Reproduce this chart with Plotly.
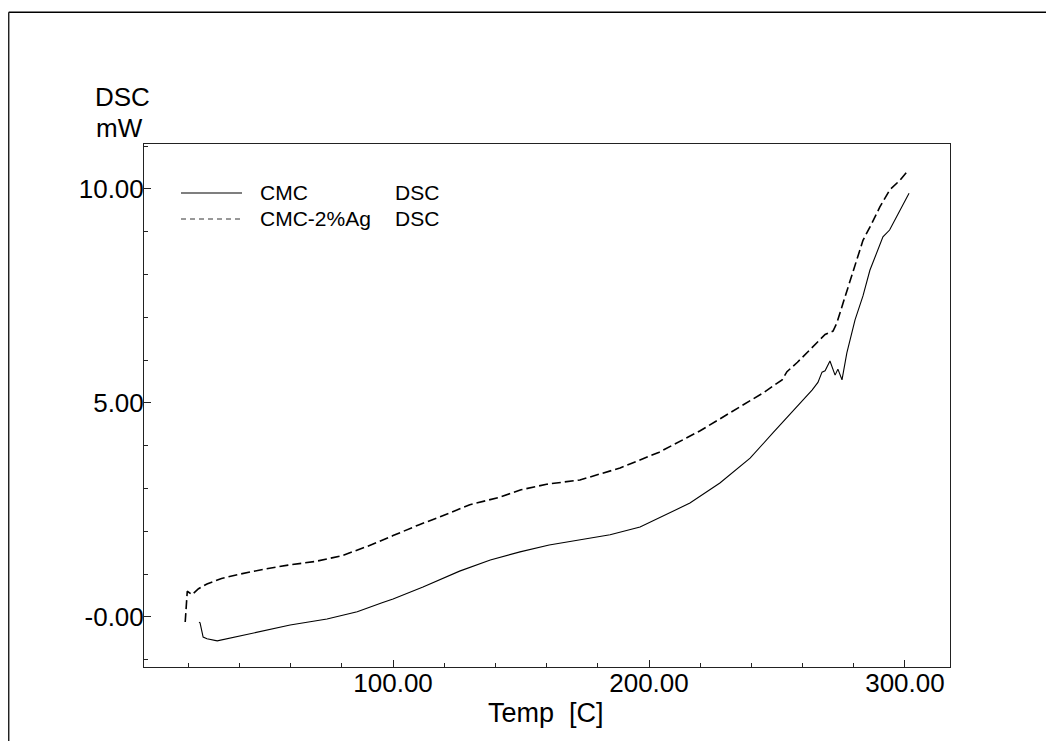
import plotly.graph_objects as go

# CMC (solid)
cmc_temp = [24.2, 24.6, 25.8, 27.3, 31.3, 40.2, 50.0, 59.8, 74.2, 86.0, 95.7, 100.0,
            111.7, 126.0, 138.0, 149.6, 161.0, 173.0, 184.8, 196.5, 204.0, 216.0,
            227.7, 239.5, 248.4, 257.8, 263.7, 266.0, 267.6, 268.8, 270.7, 272.7,
            273.8, 275.4, 277.3, 280.5, 283.6, 286.3, 291.4, 294.0, 298.0, 301.6]
cmc_dsc = [-0.12, -0.14, -0.47, -0.51, -0.56, -0.44, -0.31, -0.19, -0.05, 0.12, 0.33, 0.42,
           0.70, 1.07, 1.33, 1.52, 1.68, 1.80, 1.92, 2.10, 2.31, 2.66,
           3.13, 3.71, 4.30, 4.90, 5.30, 5.48, 5.72, 5.75, 5.98, 5.65,
           5.79, 5.54, 6.17, 6.94, 7.50, 8.10, 8.88, 9.04, 9.50, 9.90]

# CMC-2%Ag (dashed)
ag_temp = [18.8, 19.3, 19.6, 21.5, 24.0, 27.3, 33.0, 40.2, 50.0, 59.0, 70.0, 80.0,
           90.0, 100.0, 110.0, 118.4, 130.0, 141.8, 150.0, 160.0, 173.0, 188.7,
           204.0, 220.0, 235.5, 245.0, 252.0, 253.9, 258.0, 263.0, 268.8, 271.9,
           273.4, 275.8, 279.7, 283.6, 287.1, 290.2, 294.1, 298.0, 300.8]
ag_dsc = [-0.12, 0.30, 0.60, 0.52, 0.66, 0.77, 0.90, 1.00, 1.12, 1.21, 1.30, 1.43,
          1.65, 1.90, 2.15, 2.34, 2.62, 2.80, 2.97, 3.10, 3.20, 3.48,
          3.85, 4.35, 4.90, 5.25, 5.54, 5.73, 5.95, 6.24, 6.60, 6.68,
          6.87, 7.33, 8.04, 8.80, 9.20, 9.58, 9.98, 10.20, 10.40]

x_tickvals = [100, 200, 300]
x_ticktext = ["100.00", "200.00", "300.00"]
y_tickvals = [0, 5, 10]
y_ticktext = ["-0.00", "5.00", "10.00"]

FONT = "Liberation Sans, Arial, sans-serif"

fig = go.Figure()
fig.add_trace(go.Scatter(x=cmc_temp, y=cmc_dsc, mode="lines",
                         line=dict(color="black", width=1.1), showlegend=False))
fig.add_trace(go.Scatter(x=ag_temp, y=ag_dsc, mode="lines",
                         line=dict(color="black", width=1.6, dash="9px,4px"), showlegend=False))

OFF = 8  # page body margin
W, H = 1038, 733
# plot area in page pixels: left 144, right 950, top 144, bottom 667
L = 144 - OFF
T = 144 - OFF
R = OFF + W - 950
B = OFF + H - 667
PW, PH = W - L - R, H - T - B

def px(xp):
    return (xp - OFF - L) / PW

def py(yp):
    return (OFF + H - B - yp) / PH

shapes = [
    # legend sample lines
    dict(type="line", xref="paper", yref="paper", x0=px(181), x1=px(242), y0=py(193), y1=py(193),
         line=dict(color="black", width=1.1)),
    dict(type="line", xref="paper", yref="paper", x0=px(181), x1=px(242), y0=py(219), y1=py(219),
         line=dict(color="#333", width=1, dash="5px,4px")),
    # outer frame (top and left visible)
    dict(type="line", xref="paper", yref="paper", x0=px(8.7), x1=px(1060), y0=py(12.3), y1=py(12.3),
         line=dict(color="black", width=1.5)),
    dict(type="line", xref="paper", yref="paper", x0=px(8.7), x1=px(8.7), y0=py(12.3), y1=py(760),
         line=dict(color="#222", width=1.5)),
]

tfont = dict(family=FONT, size=21, color="black")
annotations = [
    dict(text="CMC", x=px(258), y=py(193), xref="paper", yref="paper", xanchor="left",
         yanchor="middle", showarrow=False, font=tfont),
    dict(text="DSC", x=px(393), y=py(193), xref="paper", yref="paper", xanchor="left",
         yanchor="middle", showarrow=False, font=tfont),
    dict(text="CMC-2%Ag", x=px(258), y=py(219), xref="paper", yref="paper", xanchor="left",
         yanchor="middle", showarrow=False, font=tfont),
    dict(text="DSC", x=px(393), y=py(219), xref="paper", yref="paper", xanchor="left",
         yanchor="middle", showarrow=False, font=tfont),
    dict(text="DSC", x=px(122), y=py(97), xref="paper", yref="paper", xanchor="center",
         yanchor="middle", showarrow=False, font=dict(family=FONT, size=26, color="black")),
    dict(text="mW", x=px(119), y=py(128), xref="paper", yref="paper", xanchor="center",
         yanchor="middle", showarrow=False, font=dict(family=FONT, size=26, color="black")),
    dict(text="Temp  [C]", x=px(546), y=py(713), xref="paper", yref="paper", xanchor="center",
         yanchor="middle", showarrow=False, font=dict(family=FONT, size=27, color="black")),
]

fig.update_layout(
    width=W, height=H,
    margin=dict(l=L, r=R, t=T, b=B, pad=0),
    paper_bgcolor="white", plot_bgcolor="white",
    shapes=shapes, annotations=annotations,
    font=dict(family=FONT, color="black"),
)
fig.update_xaxes(range=[2.7, 317.6], showgrid=False, zeroline=False,
                 showline=True, linecolor="#222", linewidth=1, mirror=True,
                 tickmode="array", tickvals=x_tickvals, ticktext=x_ticktext,
                 ticks="inside", ticklen=7, tickcolor="#222", ticklabelstandoff=-7,
                 tickfont=dict(family=FONT, size=26, color="black"),
                 minor=dict(dtick=20, tick0=0, ticks="inside", ticklen=4, tickcolor="#222", showgrid=False))
fig.update_yaxes(range=[-1.17, 11.05], showgrid=False, zeroline=False,
                 showline=True, linecolor="#222", linewidth=1, mirror=True,
                 tickmode="array", tickvals=y_tickvals, ticktext=y_ticktext,
                 ticks="inside", ticklen=7, tickcolor="#222", ticklabelstandoff=-6,
                 tickfont=dict(family=FONT, size=26, color="black"),
                 minor=dict(dtick=1, tick0=0, ticks="inside", ticklen=4, tickcolor="#222", showgrid=False))

fig.write_html("out.html")
